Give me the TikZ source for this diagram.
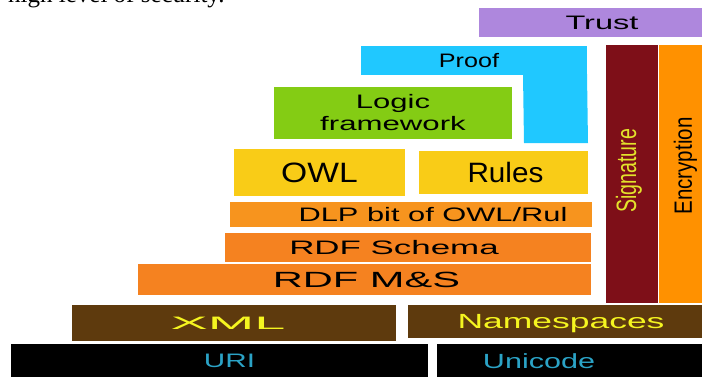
\documentclass[tikz,border=0pt]{standalone}
\usepackage{fontspec}
\setmainfont{Liberation Serif}
\setsansfont{Liberation Sans}
\usepackage{graphicx}
\definecolor{cTrust}{RGB}{174,135,221}
\definecolor{cProof}{RGB}{32,200,255}
\definecolor{cLogic}{RGB}{132,204,20}
\definecolor{cGold}{RGB}{249,204,23}
\definecolor{cDLP}{RGB}{247,148,30}
\definecolor{cRDF}{RGB}{245,130,32}
\definecolor{cSig}{RGB}{126,15,24}
\definecolor{cEnc}{RGB}{255,145,0}
\definecolor{cBrown}{RGB}{94,58,13}
\definecolor{cYel}{RGB}{245,245,32}
\definecolor{cSigTxt}{RGB}{227,227,43}
\definecolor{cTeal}{RGB}{43,163,198}
\newcommand\fsz[1]{\fontsize{#1}{#1}\selectfont}
% size, xscale, text, 2*horizontal shift
\newcommand\tx[4]{\fsz{#1}\hspace*{#4pt}\raisebox{0pt}[0.716em][0pt]{\scalebox{#2}[1]{#3}}}
% rotated label: size, xscale, text, 2*horizontal shift, 2*vertical shift
\newcommand\vtx[5]{\hspace*{#4pt}\rotatebox{90}{\fsz{#1}\hspace*{#5pt}\raisebox{0pt}[0.716em][0pt]{\scalebox{#2}[1]{#3}}}}
\tikzset{
  box/.style={rectangle, inner sep=0pt, outer sep=0pt, anchor=north west, font=\sffamily, text=black},
}
\begin{document}
\begin{tikzpicture}[x=1pt, y=-1pt]
\useasboundingbox (0,0) rectangle (702,376);
\begin{scope}
\clip (0,0) rectangle (702,376);
\node[anchor=base west, inner sep=0pt, font=\fsz{25}] (note) at (8,2.5) {high level of security.};

\node[box, fill=cTrust, minimum width=226pt, minimum height=29pt] (trust) at (479,8) {\tx{19.5}{1.67}{Trust}{20}};

\node[box, fill=cProof, minimum width=226pt, minimum height=29pt] (proof) at (361,46) {\tx{19.5}{1.29}{Proof}{-10}};
\fill[cProof] (523,74) -- (587,74) -- (588,143) -- (524,143) -- cycle;

\node[box, fill=cLogic, minimum width=238pt, minimum height=52pt, align=center,
      font=\sffamily\fontsize{19.5}{22}\selectfont] (logic) at (274,87)
  {\scalebox{1.59}[1]{Logic}\\\scalebox{1.6}[1]{framework}};

\node[box, fill=cGold, minimum width=171pt, minimum height=47pt] (owl) at (234,149) {\tx{28}{1.2}{OWL}{0}};
\node[box, fill=cGold, minimum width=169pt, minimum height=43pt] (rules) at (419,151) {\tx{28}{1.06}{Rules}{4}};

\node[box, fill=cDLP, minimum width=362pt, minimum height=25pt] (dlp) at (230,202) {\tx{19.5}{1.58}{DLP bit of OWL/Rul}{44}};
\node[box, fill=cRDF, minimum width=366pt, minimum height=29pt] (rdfs) at (225,233) {\tx{19.5}{1.79}{RDF Schema}{-28}};
\node[box, fill=cRDF, minimum width=453pt, minimum height=31pt] (rdfms) at (138,264) {\tx{22}{1.89}{RDF M\&S}{4}};

\node[box, fill=cSig, text=cSigTxt, minimum width=52pt, minimum height=258pt] (sig) at (606,45) {\vtx{28}{0.7}{Signature}{-12}{6}};
\node[box, fill=cEnc, minimum width=45pt, minimum height=258pt] (enc) at (659,45) {\vtx{25}{0.82}{Encryption}{3}{16}};

\node[box, fill=cBrown, text=cYel, minimum width=324pt, minimum height=36pt] (xml) at (72,305) {\tx{18}{3.1}{XML}{-12}};
\node[box, fill=cBrown, text=cYel, minimum width=296pt, minimum height=33pt] (ns) at (408,305) {\tx{20.5}{1.73}{Namespaces}{10}};

\node[box, fill=black, text=cTeal, minimum width=417pt, minimum height=34pt] (uri) at (11,344) {\tx{19.5}{1.52}{URI}{20}};
\node[box, fill=black, text=cTeal, minimum width=267pt, minimum height=34pt] (uni) at (437,344) {\tx{20.5}{1.49}{Unicode}{-63}};
\end{scope}
\end{tikzpicture}
\end{document}
